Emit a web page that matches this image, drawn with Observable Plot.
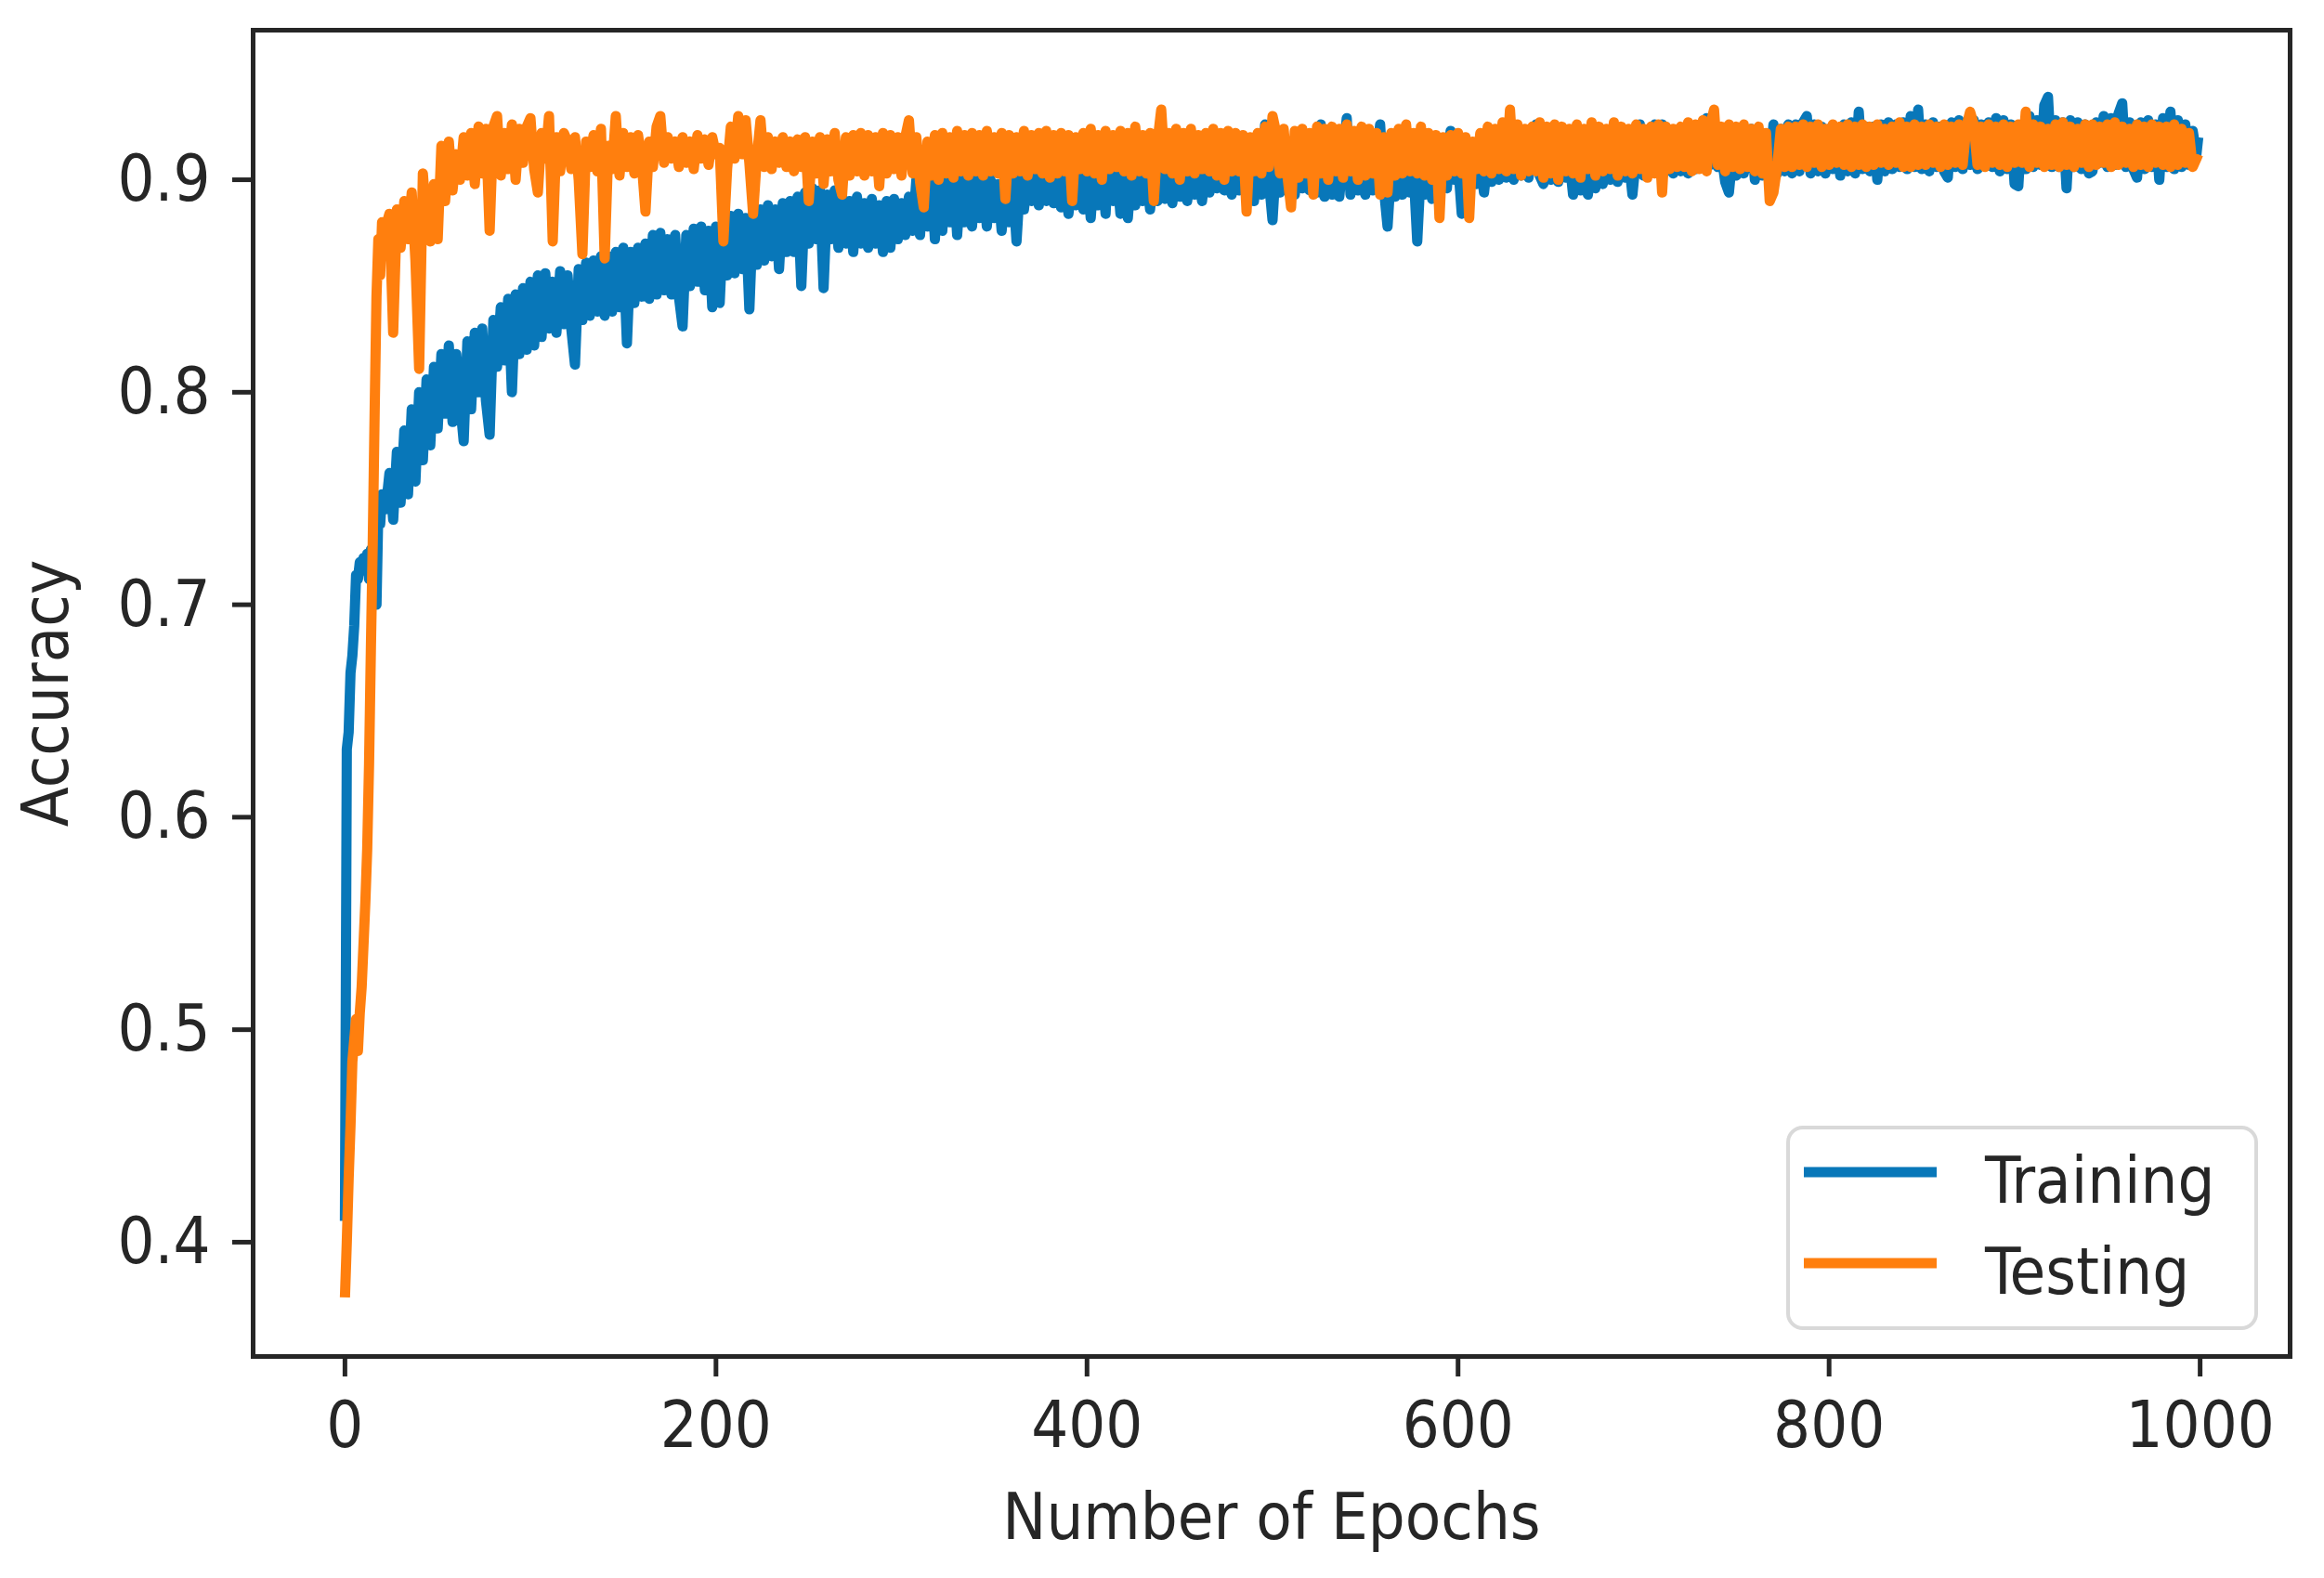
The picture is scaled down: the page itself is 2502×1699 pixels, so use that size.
<!DOCTYPE html>
<html>
<head>
<meta charset="utf-8">
<script src="https://cdn.jsdelivr.net/npm/d3@7"></script>
<script src="https://cdn.jsdelivr.net/npm/@observablehq/plot@0.6"></script>
<style>
html, body { margin: 0; padding: 0; background: #fff; }
#wrap { position: relative; width: 2502px; height: 1699px; overflow: hidden; }
#legend { position: absolute; left: 1923px; top: 1212px; }
</style>
</head>
<body>
<div id="wrap"></div>
<script>
// ---- data ----
const earlyEpochs = [0,1,2,3,4,5,6,7,8,9,10,11,12,13,14,15,16,17,18,19,20];
const laterEpochs = d3.range(22, 1000, 2).concat([999]);
const epochs = earlyEpochs.concat(laterEpochs);

const seriesNames = ["Training", "Testing"];
const seriesColors = ["#0877b9", "#ff7f0e"];

const trainingAcc = [
  .410,.632,.640,.668,.676,.690,.714,.712,.720,.716,.722,.718,.724,.712,.726,.705,.728,.700,.745,.738,.752,
  .745,.762,.740,.772,.748,.782,.752,.792,.758,.800,
  .768,.806,.775,.812,.783,.818,.790,.822,.786,.818,
  .796,.777,.824,.792,.828,.800,.830,.796,.780,.834,
  .812,.840,.815,.844,.800,.846,.818,.849,.820,.852,
  .822,.855,.826,.856,.830,.852,.828,.857,.832,.855,
  .830,.813,.858,.834,.861,.836,.862,.838,.864,.836,
  .864,.838,.866,.840,.868,.823,.866,.842,.868,.845,
  .870,.844,.874,.846,.875,.848,.872,.846,.874,.845,
  .831,.874,.850,.877,.852,.878,.848,.876,.840,.878,
  .842,.880,.855,.883,.856,.884,.858,.882,.839,.884,
  .860,.886,.862,.888,.864,.886,.858,.889,.866,.890,
  .866,.892,.850,.894,.870,.896,.872,.895,.849,.893,
  .872,.895,.868,.892,.870,.890,.866,.892,.870,.889,
  .868,.891,.870,.888,.866,.890,.868,.891,.872,.889,
  .874,.892,.876,.900,.874,.904,.878,.906,.872,.905,
  .876,.903,.880,.904,.874,.900,.880,.902,.878,.900,
  .882,.901,.878,.900,.882,.898,.876,.900,.880,.899,
  .871,.900,.886,.902,.890,.901,.888,.902,.890,.901,
  .889,.902,.887,.903,.884,.900,.888,.905,.886,.906,
  .882,.907,.888,.908,.884,.919,.890,.906,.884,.907,
  .882,.905,.888,.906,.890,.904,.886,.905,.890,.904,
  .891,.906,.889,.905,.892,.904,.890,.906,.893,.905,
  .890,.906,.894,.907,.896,.908,.895,.907,.893,.906,
  .895,.907,.892,.908,.890,.910,.893,.926,.900,.881,
  .910,.894,.911,.895,.910,.893,.911,.896,.909,.895,
  .910,.894,.926,.892,.910,.893,.909,.892,.911,.929,
  .893,.910,.895,.908,.893,.909,.895,.908,.926,.896,
  .878,.906,.892,.908,.893,.906,.894,.905,.871,.906,
  .893,.907,.891,.906,.892,.908,.896,.923,.900,.908,
  .884,.907,.896,.909,.898,.908,.894,.910,.899,.911,
  .900,.912,.901,.913,.900,.912,.902,.913,.901,.914,
  .926,.902,.898,.911,.900,.910,.899,.911,.901,.910,
  .893,.910,.895,.909,.893,.910,.896,.909,.898,.911,
  .900,.911,.899,.912,.901,.910,.893,.911,.926,.902,
  .913,.904,.926,.905,.926,.904,.914,.903,.915,.904,
  .915,.903,.914,.905,.916,.906,.929,.907,.914,.906,
  .912,.899,.894,.912,.902,.913,.903,.912,.924,.900,
  .914,.902,.915,.904,.926,.903,.924,.904,.926,.903,
  .926,.904,.927,.930,.903,.926,.904,.925,.903,.924,
  .905,.924,.902,.926,.904,.927,.903,.932,.905,.925,
  .904,.925,.900,.926,.904,.927,.905,.926,.906,.927,
  .905,.930,.906,.933,.905,.926,.904,.927,.906,.925,
  .904,.901,.927,.906,.928,.905,.926,.907,.928,.905,
  .926,.907,.927,.906,.929,.904,.928,.905,.926,.898,
  .897,.926,.905,.930,.906,.928,.907,.935,.939,.906,
  .928,.906,.927,.896,.928,.906,.927,.905,.926,.903,
  .904,.927,.908,.930,.906,.929,.907,.931,.936,.906,
  .927,.905,.901,.927,.905,.928,.906,.926,.900,.929,
  .906,.932,.905,.928,.906,.926,.907,.923,.912,
  .920
];

const testingAcc = [
  .374,.400,.430,.455,.485,.495,.505,.490,.508,.520,.540,.560,.585,.625,.680,.730,.790,.845,.872,.855,.880,
  .878,.884,.828,.886,.868,.890,.872,.894,.862,.811,
  .903,.880,.871,.898,.872,.916,.890,.918,.895,.912,
  .900,.920,.902,.922,.898,.925,.903,.924,.876,.925,
  .930,.902,.922,.905,.926,.900,.924,.908,.925,.929,
  .905,.894,.922,.910,.930,.871,.920,.904,.922,.918,
  .905,.920,.900,.865,.918,.906,.921,.904,.924,.863,
  .916,.905,.930,.902,.922,.906,.920,.903,.921,.908,
  .885,.918,.906,.925,.930,.908,.920,.910,.918,.906,
  .920,.908,.918,.905,.921,.910,.919,.907,.920,.912,
  .915,.871,.905,.925,.910,.930,.912,.928,.908,.884,
  .910,.928,.906,.920,.905,.918,.908,.920,.906,.918,
  .904,.919,.906,.920,.890,.918,.903,.920,.898,.919,
  .904,.922,.900,.893,.920,.902,.921,.904,.922,.902,
  .921,.904,.920,.897,.922,.903,.921,.905,.920,.902,
  .920,.928,.903,.920,.899,.887,.918,.902,.921,.900,
  .922,.903,.920,.901,.923,.904,.921,.902,.922,.904,
  .921,.902,.923,.904,.920,.903,.922,.891,.921,.903,
  .920,.904,.923,.902,.921,.905,.922,.903,.923,.901,
  .921,.903,.922,.904,.921,.890,.920,.905,.922,.904,
  .924,.903,.921,.900,.923,.905,.921,.906,.923,.904,
  .922,.902,.925,.904,.921,.903,.922,.890,.918,.933,
  .905,.922,.903,.924,.900,.922,.904,.924,.903,.921,
  .905,.922,.904,.924,.902,.922,.900,.923,.904,.922,
  .904,.921,.885,.920,.904,.922,.903,.925,.906,.930,
  .922,.903,.924,.902,.887,.923,.901,.924,.903,.922,
  .893,.925,.903,.924,.900,.925,.904,.924,.901,.926,
  .904,.923,.900,.925,.902,.924,.903,.922,.893,.920,
  .894,.922,.902,.924,.903,.926,.904,.922,.903,.925,
  .902,.922,.900,.921,.882,.920,.902,.921,.904,.922,
  .903,.920,.882,.918,.905,.922,.904,.925,.903,.924,
  .905,.927,.904,.933,.905,.926,.902,.924,.904,.925,
  .904,.927,.901,.925,.903,.926,.900,.925,.904,.924,
  .903,.926,.901,.924,.905,.927,.902,.925,.904,.924,
  .905,.927,.902,.925,.904,.924,.903,.926,.905,.924,
  .901,.925,.903,.926,.894,.925,.905,.924,.906,.925,
  .906,.927,.904,.926,.905,.928,.904,.926,.933,.907,
  .925,.904,.926,.906,.925,.905,.926,.906,.924,.904,
  .925,.903,.922,.890,.894,.906,.924,.906,.925,.906,
  .925,.907,.926,.906,.925,.908,.926,.906,.924,.907,
  .926,.908,.925,.907,.926,.906,.925,.907,.926,.906,
  .925,.907,.926,.908,.924,.907,.925,.908,.927,.906,
  .925,.906,.926,.907,.925,.907,.926,.908,.925,.906,
  .926,.907,.925,.908,.926,.907,.925,.932,.926,.907,
  .925,.906,.926,.908,.925,.907,.926,.906,.925,.908,
  .926,.908,.932,.906,.926,.908,.925,.906,.924,.907,
  .926,.906,.927,.907,.925,.906,.924,.908,.926,.906,
  .926,.907,.925,.908,.926,.906,.927,.907,.925,.908,
  .924,.906,.926,.907,.925,.906,.926,.908,.925,.907,
  .925,.906,.926,.907,.924,.908,.922,.906,.910,
  .912
];

const xTicks = [0, 200, 400, 600, 800, 1000];
const yTicks = [0.4, 0.5, 0.6, 0.7, 0.8, 0.9];
const xLabel = "Number of Epochs";
const yLabel = "Accuracy";

// ---- build ----
const rows = [];
[trainingAcc, testingAcc].forEach((vals, s) => {
  epochs.forEach((e, i) => rows.push({series: seriesNames[s], epoch: e, acc: vals[i]}));
});

const FONT = '"DejaVu Sans Condensed", "DejaVu Sans", sans-serif';

const chart = Plot.plot({
  width: 2502,
  height: 1699,
  marginLeft: 272,
  marginRight: 37,
  marginTop: 32,
  marginBottom: 239,
  style: {fontFamily: FONT, fontSize: "70px", color: "#262626", background: "#fff", overflow: "visible"},
  x: {domain: [-49.5, 1048.5]},
  y: {domain: [0.3462, 0.9704]},
  color: {domain: seriesNames, range: seriesColors},
  marks: [
    Plot.line(rows, {x: "epoch", y: "acc", z: "series", stroke: "series", strokeWidth: 11, strokeLinejoin: "round", strokeLinecap: "butt"}),
    Plot.frame({stroke: "#262626", strokeWidth: 5}),
    Plot.axisX({ticks: xTicks, tickSize: 22, tickPadding: 26, strokeWidth: 5, tickFormat: d => String(d),
      label: xLabel, labelAnchor: "center", labelArrow: "none", labelOffset: 196}),
    Plot.axisY({ticks: yTicks, tickSize: 22, tickPadding: 24, strokeWidth: 5, tickFormat: d3.format(".1f"),
      label: yLabel, labelAnchor: "center", labelArrow: "none", labelOffset: 249})
  ]
});
document.getElementById("wrap").appendChild(chart);

// ---- legend ----
const NS = "http://www.w3.org/2000/svg";
const leg = document.createElementNS(NS, "svg");
leg.setAttribute("id", "legend");
leg.setAttribute("width", 510);
leg.setAttribute("height", 222);
const box = document.createElementNS(NS, "rect");
box.setAttribute("x", 2); box.setAttribute("y", 2);
box.setAttribute("width", 504); box.setAttribute("height", 216);
box.setAttribute("rx", 16);
box.setAttribute("fill", "rgba(255,255,255,0.8)");
box.setAttribute("stroke", "#d9d9d9");
box.setAttribute("stroke-width", 4);
leg.appendChild(box);
seriesNames.forEach((name, i) => {
  const cy = 50 + i * 98;
  const ln = document.createElementNS(NS, "line");
  ln.setAttribute("x1", 19); ln.setAttribute("x2", 162);
  ln.setAttribute("y1", cy); ln.setAttribute("y2", cy);
  ln.setAttribute("stroke", seriesColors[i]);
  ln.setAttribute("stroke-width", 11);
  leg.appendChild(ln);
  const tx = document.createElementNS(NS, "text");
  tx.setAttribute("x", 214); tx.setAttribute("y", cy + 33);
  tx.setAttribute("font-family", FONT);
  tx.setAttribute("font-size", "70px");
  tx.setAttribute("fill", "#262626");
  tx.textContent = name;
  leg.appendChild(tx);
});
document.getElementById("wrap").appendChild(leg);
</script>
</body>
</html>
